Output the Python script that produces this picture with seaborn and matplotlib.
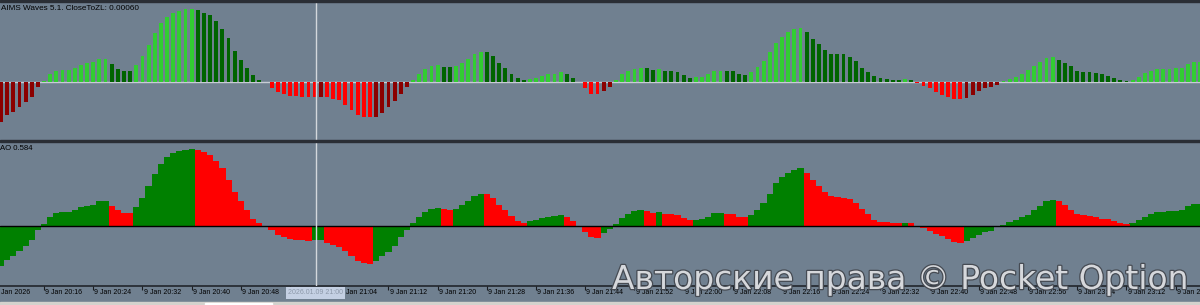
import numpy as np
import pandas as pd
import matplotlib
matplotlib.use("Agg")
import matplotlib.pyplot as plt
import matplotlib.transforms as mtransforms
import matplotlib.patheffects as pe
from matplotlib.patches import Rectangle
import seaborn as sns

# ---------------- data ----------------
waves_vals = [
    -40, -33, -30, -25, -20, -15, -5, 1, 8, 11,
    12, 12, 14, 17, 19, 20, 23, 23, 18, 13,
    11, 11, 17, 26, 37, 49, 59, 65, 69, 71,
    73, 73, 72, 69, 67, 61, 53, 44, 31, 22,
    14, 7, 2, 0, -6, -10, -12, -14, -14, -15,
    -15, -15, -15, -15, -17, -18, -23, -28, -33, -35,
    -35, -35, -31, -25, -19, -12, -5, 2, 8, 13,
    16, 17, 15, 15, 16, 19, 23, 28, 30, 30,
    26, 19, 14, 8, 4, 2, 3, 4, 6, 8,
    8, 10, 8, 4, 0, -6, -12, -12, -9, -5,
    2, 8, 11, 13, 14, 14, 12, 13, 11, 11,
    10, 7, 4, 5, 5, 8, 11, 11, 11, 11,
    8, 7, 10, 15, 21, 30, 39, 45, 50, 53,
    54, 50, 43, 38, 32, 28, 28, 28, 25, 21,
    14, 10, 6, 4, 3, 2, 2, 3, 2, -1,
    -4, -6, -10, -13, -15, -17, -17, -16, -13, -9,
    -6, -5, -3, 1, 3, 5, 8, 12, 16, 20,
    24, 25, 22, 19, 16, 11, 10, 10, 9, 8,
    6, 4, 2, 1, 2, 5, 9, 11, 13, 13,
    13, 14, 14, 18, 20, 20,
]
waves_rising = ("1111111111" "1111111100" "0011111111" "1100000000" "0000000000"
                "0010000000" "0111111111" "1100111110" "0000001111" "1100000011"
                "1111100100" "0001111100" "0011111111" "1000000000" "0000000100"
                "0000000111" "1111111111" "1100000000" "0000111111" "111111")

ao_vals = [
    -40, -34, -30, -25, -20, -14, -4, 2, 9, 13,
    14, 14, 16, 19, 20, 21, 25, 25, 20, 16,
    13, 13, 19, 28, 40, 52, 62, 69, 73, 75,
    76, 77, 76, 74, 71, 65, 58, 46, 34, 25,
    16, 7, 3, 0.3, -4, -9, -11, -13, -14, -14,
    -14.5, -14, -13.5, -17, -19, -21, -25, -30, -35, -37,
    -37.5, -35, -30, -26, -20, -11, -4, 3, 9, 14,
    17, 18, 17, 16, 17, 21, 25, 30, 32.5, 32,
    28, 21, 16, 10, 5, 3, 5, 6, 8, 9,
    10, 11, 9, 5, 0.3, -6, -11, -11.5, -7, -3,
    2, 8, 12, 15, 16, 15, 13, 14, 12.5, 12,
    11, 8, 6, 6.5, 7, 9, 13, 13.5, 12.5, 12,
    9.5, 9, 11, 16, 23, 32, 43, 49, 53, 56,
    58, 53, 46, 40, 34, 30, 29, 28.5, 27, 23,
    17, 12, 6, 4.5, 4, 3.5, 3, 3.5, 3, 0.3,
    -2, -5, -8, -10, -13, -16, -17, -15, -12, -9,
    -6, -5, -1, 1, 4, 6, 9, 11, 16, 20,
    25, 26, 25, 21, 16, 12, 11, 10, 9, 7.5,
    7, 5, 3, 2, 3, 6, 9, 12, 14, 14.5,
    15, 15.5, 16, 20, 22, 22.5,
]
ao_rising = ("1111111111" "1111111100" "0011111111" "1100000000" "0000000000"
             "0110000000" "0111111111" "1100111110" "0000001111" "1100000011"
             "1111100100" "0001111100" "0011111111" "1000000000" "0000000100"
             "0000000111" "1111111111" "1100000000" "0000111111" "111111")

tick_labels = [
    "9 Jan 20:16", "9 Jan 20:24", "9 Jan 20:32", "9 Jan 20:40", "9 Jan 20:48",
    "9 Jan 20:56", "9 Jan 21:04", "9 Jan 21:12", "9 Jan 21:20", "9 Jan 21:28",
    "9 Jan 21:36", "9 Jan 21:44", "9 Jan 21:52", "9 Jan 22:00", "9 Jan 22:08",
    "9 Jan 22:16", "9 Jan 22:24", "9 Jan 22:32", "9 Jan 22:40", "9 Jan 22:48",
    "9 Jan 22:56", "9 Jan 23:04", "9 Jan 23:12", "9 Jan 23:20",
]
first_label = "9 Jan 2026"
first_tick_bar = 7
tick_step = 8
cursor_bar = 51.2
cursor_label = "2026.01.09 21:00"
waves_title = "AIMS Waves 5.1. CloseToZL: 0.00060"
ao_title = "AO 0.584"
watermark = "Авторские права © Pocket Option"

# ---------------- style ----------------
W, H = 1200, 305
BG = "#708090"
DARK = "#2a2e35"
pal_waves = {"pos_up": "#32cd32", "pos_dn": "#006400",
             "neg_dn": "#ff0000", "neg_up": "#8b0000"}
pal_ao = {"up": "#008000", "dn": "#ff0000"}

sns.set_theme(style="white")
plt.rcParams["font.family"] = ["Liberation Sans", "DejaVu Sans"]


def fy(px):
    return 1 - px / H


n = len(waves_vals)
bars = np.arange(n)
w_cls = [("pos_" if v >= 0 else "neg_") + ("up" if r == "1" else "dn")
         for v, r in zip(waves_vals, waves_rising)]
a_cls = ["up" if r == "1" else "dn" for r in ao_rising]
df_w = pd.DataFrame({"bar": bars, "val": waves_vals, "cls": w_cls})
df_a = pd.DataFrame({"bar": bars, "val": ao_vals, "cls": a_cls})

fig = plt.figure(figsize=(W / 100, H / 100), dpi=100)
fig.patch.set_facecolor(BG)

ax1 = fig.add_axes([0, fy(140), 1, (140 - 2) / H])
ax2 = fig.add_axes([0, fy(286), 1, (286 - 142) / H])
for ax in (ax1, ax2):
    ax.set_facecolor(BG)
    for s in ax.spines.values():
        s.set_visible(False)

sns.barplot(data=df_w, x="bar", y="val", hue="cls", palette=pal_waves,
            dodge=False, width=0.62, saturation=1, errorbar=None,
            linewidth=0, legend=False, native_scale=True, ax=ax1, zorder=2)
sns.barplot(data=df_a, x="bar", y="val", hue="cls", palette=pal_ao,
            dodge=False, width=1.02, saturation=1, errorbar=None,
            linewidth=0, legend=False, native_scale=True, ax=ax2, zorder=2)

X0, X1 = -1 / 6.15, 1199 / 6.15
ax1.set_xlim(X0, X1)
ax2.set_xlim(X0, X1)
ax1.set_ylim(-58, 80)
ax2.set_ylim(-59.7, 84.3)
for ax in (ax1, ax2):
    ax.set_xlabel("")
    ax.set_ylabel("")
    ax.set_yticks([])

ax1.set_xticks([])
ax1.axhline(0, color="#c8cdd4", lw=1, zorder=1)
ax2.axhline(0, color="#000000", lw=1, zorder=3)
ax1.axvline(cursor_bar, color="#d3d7dc", lw=1, zorder=4)
ax2.axvline(cursor_bar, color="#d3d7dc", lw=1, zorder=4)

ticks = [first_tick_bar + tick_step * k for k in range(len(tick_labels))]
ax2.set_xticks(ticks)
ax2.tick_params(axis="x", bottom=True, length=3, width=0.8, color="#1b1e23",
                direction="out", labelbottom=False)
ax2.spines["bottom"].set_visible(True)
ax2.spines["bottom"].set_color("#1b1e23")
ax2.spines["bottom"].set_linewidth(1.1)

tr = mtransforms.blended_transform_factory(ax2.transData, fig.transFigure)
for t, lab in zip(ticks, tick_labels):
    ax2.text(t + 0.2, fy(293), lab, transform=tr, ha="left", va="center",
             fontsize=5, color="#000000", clip_on=False)
fig.text(-5 / W, fy(293), first_label, ha="left", va="center",
         fontsize=5, color="#000000")

fig.text(315.5 / W, fy(293), cursor_label, ha="center", va="center",
         fontsize=5, color="#8c98a9", zorder=10,
         bbox=dict(boxstyle="square,pad=0.35", fc="#c4d0e3", ec="none"))

fig.text(1 / W, fy(8.5), waves_title, ha="left", va="center", fontsize=5.9,
         color="#000000")
fig.text(0 / W, fy(148.5), ao_title, ha="left", va="center", fontsize=5.6,
         color="#000000")

# frame lines / separators
fig.add_artist(Rectangle((0, fy(2)), 1, 2 / H, transform=fig.transFigure,
                         color=DARK, zorder=5))
fig.add_artist(Rectangle((0, fy(142)), 1, 2 / H, transform=fig.transFigure,
                         color=DARK, zorder=5))
fig.add_artist(Rectangle((0, 0), 1, 3 / H, transform=fig.transFigure,
                         color="#d4d2cd", zorder=5))
fig.add_artist(Rectangle((205 / W, 0), 67 / W, 2.4 / H,
                         transform=fig.transFigure, color="#ffffff", zorder=6))

fig.text(612 / W, fy(289), watermark, ha="left", va="baseline",
         fontsize=23.7, family=["DejaVu Sans"], color="#d6d8dc", zorder=20,
         path_effects=[pe.withStroke(linewidth=1.8, foreground="#464b53")])

fig.savefig("out.png", dpi=100, facecolor=BG)
